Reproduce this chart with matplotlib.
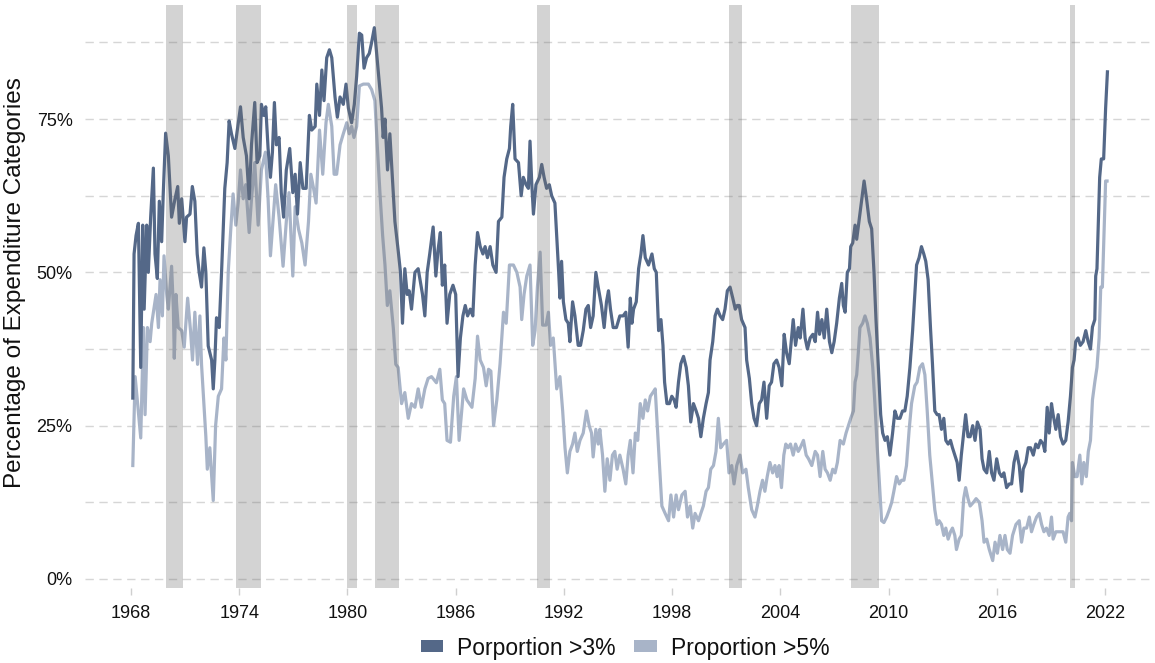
import matplotlib
matplotlib.use("Agg")
import matplotlib.pyplot as plt
from matplotlib.patches import Patch
import numpy as np

plt.rcParams['font.family'] = ['Liberation Sans', 'DejaVu Sans']

# ---- data: share of expenditure categories with inflation above thresholds ----
dates_3 = [
 1968.10,1968.17,1968.28,1968.41,1968.54,1968.65,1968.73,1968.87,1968.96,1969.09,1969.24,1969.33,1969.46,1969.57,1969.70,1969.79,1969.92,
 1970.07,1970.25,1970.44,1970.59,1970.68,1970.81,1970.99,1971.08,1971.27,1971.40,1971.54,1971.67,1971.78,1971.91,1972.04,1972.15,1972.28,
 1972.47,1972.56,1972.65,1972.74,1972.89,1973.02,1973.20,1973.33,1973.44,1973.57,1973.76,1973.88,1974.07,1974.22,1974.40,1974.55,1974.68,
 1974.86,1974.99,1975.14,1975.23,1975.36,1975.47,1975.60,1975.73,1975.84,1975.95,1976.06,1976.21,1976.33,1976.46,1976.61,1976.80,
 1976.97,1977.10,1977.23,1977.38,1977.53,1977.71,1977.89,1978.02,1978.21,1978.30,1978.45,1978.58,1978.70,1978.85,1979.00,1979.13,1979.31,
 1979.44,1979.59,1979.77,1979.92,1980.05,1980.23,1980.38,1980.51,1980.66,1980.79,1980.92,1981.06,1981.21,1981.34,1981.49,1981.62,1981.76,
 1981.89,1981.98,1982.08,1982.22,1982.35,1982.50,1982.63,1982.81,1982.94,1983.05,1983.18,1983.31,1983.42,1983.55,1983.74,1983.92,1984.16,
 1984.29,1984.42,1984.56,1984.75,1984.90,1985.02,1985.15,1985.26,1985.39,1985.52,1985.67,1985.85,1986.00,1986.13,1986.26,
 1986.40,1986.53,1986.66,1986.81,1986.95,1987.08,1987.21,1987.36,1987.51,1987.63,1987.76,1987.91,1988.06,1988.24,1988.37,1988.56,1988.68,
 1988.83,1988.98,1989.05,1989.16,1989.29,1989.48,1989.63,1989.75,1989.90,1990.03,1990.12,1990.22,1990.31,1990.45,1990.64,1990.77,1990.90,
 1991.04,1991.19,1991.32,1991.50,1991.60,1991.71,1991.78,1991.87,1991.97,1992.11,1992.24,1992.33,1992.48,1992.61,1992.79,1992.92,1993.07,
 1993.22,1993.35,1993.48,1993.62,1993.77,1993.90,1994.08,1994.23,1994.36,1994.47,1994.58,1994.73,1994.91,1995.10,1995.28,1995.43,1995.56,
 1995.68,1995.77,1995.86,1996.01,1996.14,1996.27,1996.38,1996.51,1996.69,1996.88,1997.01,1997.12,1997.25,1997.38,1997.49,1997.58,1997.71,
 1997.85,1997.98,1998.11,1998.22,1998.35,1998.48,1998.63,1998.78,1998.90,1999.03,1999.18,1999.33,1999.46,1999.59,1999.73,1999.88,2000.01,
 2000.10,2000.25,2000.38,2000.51,2000.66,2000.80,2000.93,2001.06,2001.21,2001.36,2001.50,2001.61,2001.72,2001.85,2002.04,2002.13,2002.28,
 2002.41,2002.54,2002.68,2002.83,2002.96,2003.09,2003.24,2003.38,2003.51,2003.64,2003.79,2003.93,2004.08,2004.21,2004.34,2004.49,2004.62,
 2004.71,2004.84,2004.99,
 2005.10,2005.25,2005.37,2005.50,2005.65,2005.80,2005.93,2006.06,2006.17,2006.30,2006.43,2006.57,2006.72,2006.85,2006.98,2007.12,2007.27,
 2007.40,2007.49,2007.59,2007.71,2007.83,2007.90,2008.01,2008.14,2008.23,2008.38,2008.51,2008.64,2008.78,2008.93,2009.06,2009.19,2009.30,
 2009.43,2009.56,2009.67,2009.80,2009.93,2010.07,2010.22,2010.35,2010.48,2010.63,2010.77,2010.90,2011.03,2011.18,2011.33,2011.45,2011.55,
 2011.69,2011.82,2011.95,2012.06,2012.19,2012.32,2012.43,2012.56,2012.69,2012.80,2012.93,2013.06,2013.17,2013.30,2013.43,2013.54,2013.67,
 2013.80,2013.91,2014.03,2014.16,2014.27,2014.40,
 2014.52,2014.66,2014.79,2014.92,2015.07,2015.18,2015.29,2015.44,2015.58,2015.71,2015.84,2015.99,2016.14,2016.27,2016.39,2016.54,2016.69,
 2016.82,2016.95,2017.09,2017.24,2017.37,2017.46,2017.61,2017.74,2017.87,2018.02,2018.16,2018.29,2018.42,2018.57,2018.66,2018.79,2018.90,
 2019.03,2019.12,2019.27,2019.40,2019.53,2019.67,2019.82,2019.95,2020.08,2020.19,2020.28,2020.37,2020.50,2020.63,2020.78,2020.93,2021.06,
 2021.19,2021.30,2021.43,2021.48,2021.55,2021.63,2021.70,2021.79,2021.92,2022.03,2022.13]
share_3 = [
 29.5,53,56,58,34.5,57.7,44,57.7,50,59,67,53,49,61.6,55,63,72.7,
 69,59,62,64,58,62,55,59,59.5,64,61.6,53,50,47.6,54,50,38,
 35.7,31,35.7,42.6,41,50,63.7,67.9,74.7,72.6,70.2,72.9,77,72,69,62,70.8,
 77.7,67.9,69,77.4,75.6,77,70.2,65.5,69.6,77.7,70.8,72,63,59,66.7,70.2,
 63,66,59.5,67.9,63.7,63.7,75.6,73.2,73.8,80.7,75.6,83,78,85,86.3,85,78.6,
 75.3,78.6,77.4,80.7,76.8,74.4,77.4,82,89,88.7,83.3,85,85.7,87.5,89.9,85.7,81,
 76.8,72,75,66.7,72.6,64.9,58.3,53.6,50,41.7,50.6,46.4,47,44,50,50.6,46.4,
 42.9,50,53,57.4,49.4,53.6,56.5,47.9,51.2,41.7,46.4,47.9,46.4,33,39.3,
 42.9,44.6,42.9,44,42.9,51.2,56.5,54.2,53,54.2,52.4,54.2,51.2,50,58.3,59,65.5,
 68.5,70.2,73.8,77.4,68.5,67.9,62.5,65.5,64.3,63.7,71.4,64.3,59.5,64.3,65.5,67.6,65.5,
 63.7,64.3,62.5,61.3,56,50,45.8,51.8,45.2,42.3,41.7,38.7,45.2,42.9,38.1,38.1,40.5,
 44,44.6,41,42.9,50,47.6,44.6,41,45.2,47,44,41,41,42.9,42.9,43.5,37.8,
 45.8,41.7,44,45.2,50.6,53,56,52.4,51.2,53,50.6,50,40.5,42.3,38.1,32.1,28.6,
 28.6,29.8,29.2,28,32.1,35.1,36.3,34.5,31.5,25.6,28.6,27.4,26.2,23.2,26.2,28.6,30.4,
 35.7,38.7,42.9,44,42.9,42.3,44,47,47.6,45.8,44,44.6,44.6,42.3,41,35.7,32.7,
 28.6,26.2,25,28.6,29.2,32.1,26.2,31.5,32.1,35.1,35.7,34.5,31.5,39.9,36.9,35.1,39.3,
 42.3,38.1,41,
 39.3,44,39.3,37.5,39.3,39.9,38.7,43.5,39.9,42.3,39.3,44,38.7,36.9,38.7,41.7,45.8,
 48.2,44.6,43.5,50,50.6,54.2,54.8,57.7,55.4,58.9,61.9,64.9,61.9,58.3,57.1,50,42.3,
 34.5,26.8,23.8,22.6,23.2,20.2,23.8,27.4,26.2,26.2,27.4,27.4,29.8,34.5,40.5,46.4,51.2,
 52.4,54.2,53,51.8,48.8,41,35.1,27.4,26.8,26.8,24.4,26.2,22.6,22,22.6,21.4,20.2,
 19,16.1,20.2,23.8,26.8,23.2,
 23.2,25,22.6,25.6,24.4,19.6,17.9,17.3,20.8,17.3,16.1,19.6,17.3,16.7,17.3,14.9,15.5,
 15.5,19,20.8,18.5,14.3,17.9,19,21.4,21.4,20.2,22,21.4,22.6,22,20.8,28,23.8,
 28.6,26.8,24.4,26.8,23.2,22,22.6,25.6,29.8,34.5,35.7,38.7,39.3,38.1,38.7,40.5,38.7,
 37.5,41.1,42.3,49.4,50.6,58.3,65.5,68.5,68.5,76.8,82.7]

dates_5 = [
 1968.10,1968.23,1968.54,1968.69,1968.78,1968.91,1969.06,1969.15,1969.39,1969.52,1969.61,1969.74,1969.83,1969.98,1970.07,1970.25,1970.35,
 1970.40,1970.49,1970.62,1970.81,1970.95,1971.14,1971.30,1971.41,1971.54,1971.69,1971.82,1971.91,1972.15,1972.23,1972.37,1972.56,1972.69,
 1972.84,1973.02,1973.15,1973.26,1973.39,1973.53,1973.66,1973.81,1973.94,1974.07,1974.22,1974.36,1974.55,1974.68,1974.86,1975.05,1975.23,
 1975.45,1975.60,1975.73,1975.87,1976.02,1976.21,1976.43,1976.61,1976.76,
 1976.97,1977.10,1977.29,1977.47,1977.65,1977.84,1977.97,1978.12,1978.26,1978.45,1978.63,1978.81,1978.94,1979.13,1979.26,1979.40,1979.59,
 1979.77,1979.96,1980.10,1980.23,1980.36,1980.51,1980.66,1980.88,1981.16,1981.34,1981.52,1981.65,1981.80,1981.95,1982.08,1982.21,1982.35,
 1982.54,1982.68,1982.81,1983.00,1983.18,1983.37,1983.55,1983.74,1983.92,1984.10,1984.29,1984.47,1984.66,1984.93,1985.12,1985.26,1985.39,
 1985.52,1985.71,1985.89,1986.04,1986.19,
 1986.44,1986.62,1986.90,1987.08,1987.21,1987.36,1987.54,1987.69,1987.82,1987.95,1988.10,1988.28,1988.46,1988.65,1988.80,1988.98,1989.20,
 1989.39,1989.57,1989.66,1989.79,1989.94,1990.12,1990.27,1990.40,1990.53,1990.68,1990.82,1991.01,1991.14,1991.26,1991.41,1991.60,1991.78,
 1991.93,1992.06,1992.19,1992.33,1992.48,1992.61,1992.74,1992.89,1993.07,1993.25,1993.40,1993.53,1993.62,1993.77,1993.90,1993.99,1994.14,
 1994.27,1994.40,1994.55,1994.69,1994.82,1994.95,1995.10,1995.28,1995.43,1995.56,
 1995.68,1995.83,1995.96,1996.09,1996.23,1996.38,1996.51,1996.64,1996.79,1996.93,1997.06,1997.15,1997.30,1997.43,1997.61,1997.80,1997.93,
 1998.08,1998.22,1998.35,1998.54,1998.72,1998.85,1999.00,1999.14,1999.27,1999.46,1999.59,1999.73,1999.88,2000.01,2000.14,2000.29,2000.43,
 2000.56,2000.69,2000.84,2001.02,2001.15,2001.30,2001.43,2001.58,2001.76,2001.91,2002.09,2002.22,2002.41,2002.59,2002.72,2002.87,2003.01,
 2003.14,2003.27,2003.42,2003.57,2003.70,2003.82,2003.93,2004.06,2004.19,2004.30,2004.43,2004.56,2004.71,2004.84,2004.99,
 2005.10,2005.28,2005.43,2005.56,2005.74,2005.93,2006.06,2006.20,2006.35,2006.48,2006.61,2006.76,2006.90,2007.03,2007.16,2007.31,2007.49,
 2007.64,2007.77,2007.90,2008.05,2008.14,2008.23,2008.32,2008.41,2008.56,2008.69,2008.82,2008.97,2009.12,2009.24,2009.37,2009.48,2009.61,
 2009.74,2009.89,2010.04,2010.17,2010.29,2010.44,2010.59,2010.72,2010.85,2010.99,2011.14,2011.27,2011.45,2011.58,2011.73,2011.88,2012.01,
 2012.14,2012.28,2012.43,2012.56,2012.69,2012.80,2012.93,2013.06,2013.17,2013.30,2013.43,2013.54,2013.67,2013.76,2013.91,2014.03,2014.16,
 2014.27,2014.40,
 2014.52,2014.70,2014.85,2015.03,2015.18,2015.29,2015.44,2015.58,2015.77,2015.90,2016.03,2016.17,2016.32,2016.45,2016.58,2016.73,2016.87,
 2017.06,2017.24,2017.37,2017.50,2017.65,2017.80,2017.92,2018.05,2018.20,2018.35,2018.48,2018.61,2018.75,2018.90,2019.03,2019.12,2019.27,
 2019.40,2019.53,2019.67,2019.82,2019.95,2020.04,2020.14,2020.19,2020.32,2020.45,2020.60,2020.71,2020.82,2020.96,2021.07,2021.19,2021.30,
 2021.43,2021.55,2021.67,2021.76,2021.85,2021.94,2022.03,2022.11]
share_5 = [
 18.5,33,23,41,26.8,41,38.7,41.7,46.4,41,48.8,42.9,52.7,46.4,44,51,44,
 36,46.4,41,40.5,37.8,45.8,40.5,35.7,43.5,35,42.9,35,23.2,17.9,21.4,12.8,25,
 29.8,31,39.3,35.7,50,57,62.8,57.7,61.3,66.7,62,64.3,56.5,62,67.9,57.7,66.7,
 69.6,62,52.7,58.3,64.3,59,51,58.3,63,
 49.4,60.7,57,54.8,51.2,58.3,66,63.7,61.3,73.2,66,74.4,77.4,73.8,66,66,70.8,
 72.6,74.4,72.6,73.8,72,73.8,80.4,80.7,80.7,79.8,78,70.8,63,56,51.2,44.6,47,
 41,35,34.5,28.6,30.4,26.2,28.6,28,31,28,31,32.7,33,32,34.2,29.2,28.6,
 22.6,22.3,29.8,33,22.6,
 31,29.2,28,32.7,39.6,35.7,34.5,31.5,34.2,33.9,25,29.2,35.1,43.5,41.7,51.2,51.2,
 50,47.6,42.3,46.4,49.4,51.2,38.1,40.5,47.6,53.3,41.4,41.4,43.5,38.1,39.3,31,33,
 27.4,21.4,17.3,20.8,22,23.8,20.8,22.6,23.8,27.4,25,23.8,19.9,24.4,22,24.4,20.2,
 14.3,19.6,16.1,20.2,20.8,17.9,20.2,17.9,15.5,20.2,
 22.6,17.3,23.8,22.6,28.6,26.2,29.2,27.4,29.8,30.4,31,26.2,18.5,11.9,10.7,9.5,13.7,
 10.1,13.7,11.3,13.7,14.3,10.1,11.9,8.3,10.7,9.5,10.7,11.9,14.3,14.9,17.9,18.5,20.8,
 26.2,21.4,22,22.6,17.3,18.5,15.5,18.5,20.2,17.3,17.9,14.9,11.3,10.1,11.9,14.3,16.1,
 14.3,16.7,19,17.3,18.5,16.7,18.5,14.9,20.2,22,21.4,22,20.2,22,20.8,
 21.4,22.6,20.2,19.6,18.5,20.8,20.2,16.7,20.8,17.9,17.3,16.1,17.9,17.3,19,22.6,22,
 23.8,25,26.2,27.4,32.1,33.3,36.9,41,41.7,42.9,41.7,39.3,34.5,28.6,21.4,16.1,9.5,
 9.2,10.1,11.3,12.5,14.3,16.7,15.5,16.1,16.1,18.5,24.4,28.6,31.5,32.1,34.5,35.1,33.3,
 27.4,20.2,15.5,11.3,8.9,9.5,8.9,7.1,8.3,6.5,7.7,8.3,7.1,4.8,6.5,7.1,13.1,
 14.9,13.1,
 11.9,12.5,13.1,12.5,9.5,6,6.5,4.8,3,6,4.2,7.1,4.8,7.1,4.8,4.2,7.1,
 8.9,9.5,6,8.3,8.3,10.1,7.7,8.9,10.1,10.7,8.9,7.7,8.3,7.1,10.1,6.5,7.7,
 7.7,7.7,7.7,6,10.1,10.7,9.5,19,16.7,16.7,20.2,15.5,19,16.7,20.8,22.6,29.2,
 32.1,34.5,39.3,47.6,47.6,56,64.9,64.9]

recession_start = [1969.92, 1973.83, 1980.00, 1981.50, 1990.50, 2001.17, 2007.92, 2020.04]
recession_end   = [1970.88, 1975.21, 1980.54, 1982.88, 1991.21, 2001.88, 2009.46, 2020.33]

year_ticks = [1968, 1974, 1980, 1986, 1992, 1998, 2004, 2010, 2016, 2022]
pct_ticks = [0, 25, 50, 75]
pct_minor = [12.5, 37.5, 62.5, 87.5]
labels = ['Porportion >3%', 'Proportion >5%']
colors = ['#546888', '#a8b4c8']

# ---- figure ----
W, H = 1155, 663
fig = plt.figure(figsize=(W / 100, H / 100), dpi=100)
ax = fig.add_axes([85 / W, 1 - 588 / H, 1065 / W, 583 / H])

ax.plot(dates_3, share_3, color=colors[0], lw=2.3, zorder=2, solid_joinstyle='round')
ax.plot(dates_5, share_5, color=colors[1], lw=2.3, zorder=1.9, solid_joinstyle='round')

for s, e in zip(recession_start, recession_end):
    ax.axvspan(s, e, color='#6e6e6e', alpha=0.30, lw=0, zorder=3)

ax.set_xlim(1965.45, 2024.49)
ax.set_ylim(-1.47, 93.6)

ax.set_yticks(pct_ticks)
ax.set_yticks(pct_minor, minor=True)
ax.set_yticklabels([f'{v}%' for v in pct_ticks])
ax.set_xticks(year_ticks)
ax.set_xticklabels([str(y) for y in year_ticks])

ax.grid(axis='y', which='both', color='#d6d6d6', lw=1.0, linestyle=(0, (6, 4)), zorder=0)
ax.set_axisbelow(True)
for sp in ax.spines.values():
    sp.set_visible(False)

ax.tick_params(axis='y', which='both', length=0, pad=9, labelsize=13, labelcolor='#111111')
ax.tick_params(axis='x', length=5, width=1, color='#cfcfcf', pad=7, labelsize=13, labelcolor='#111111')

fig.text(15 / W, 1 - 283 / H, 'Percentage of Expenditure Categories', rotation=90,
         ha='center', va='center', fontsize=17.5, color='#111111')

handles = [Patch(facecolor=c, edgecolor='none') for c in colors]
fig.legend(handles, labels, loc='center', bbox_to_anchor=(625 / W, 1 - 648 / H), ncol=2,
           frameon=False, fontsize=16.5, handlelength=1.0, handleheight=0.45,
           handletextpad=0.6, columnspacing=0.8, labelcolor='#111111')

fig.savefig('out.png', dpi=100)
